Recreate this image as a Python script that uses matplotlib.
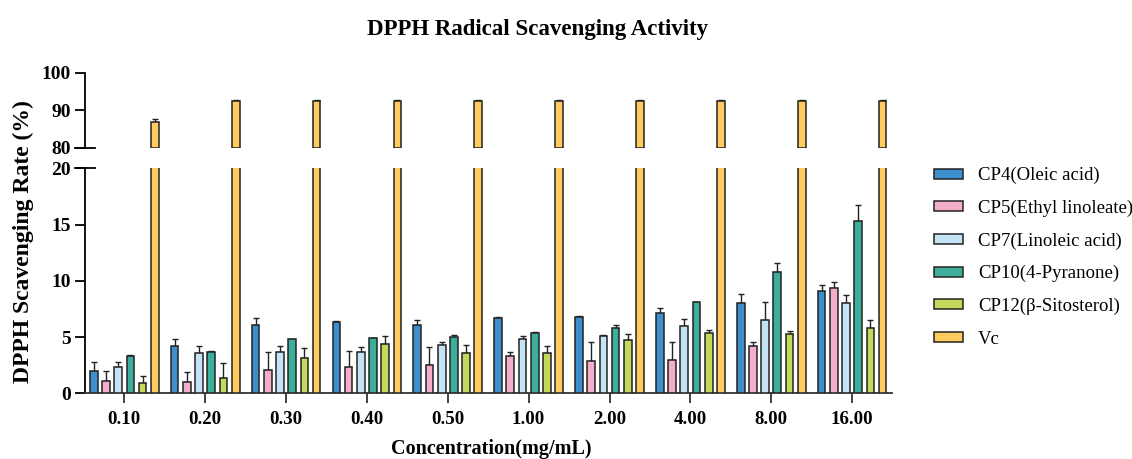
import numpy as np
import matplotlib
matplotlib.use("Agg")
import matplotlib.pyplot as plt
from matplotlib.patches import Patch
import matplotlib.transforms as mtransforms

plt.rcParams['font.family'] = ['Liberation Serif', 'DejaVu Serif']

concentrations = ['0.10', '0.20', '0.30', '0.40', '0.50', '1.00', '2.00', '4.00', '8.00', '16.00']
series = ['CP4(Oleic acid)', 'CP5(Ethyl linoleate)', 'CP7(Linoleic acid)',
          'CP10(4-Pyranone)', 'CP12(β-Sitosterol)', 'Vc']
colors = ['#3E8FCE', '#F2AECB', '#C4E3F5', '#3DAE9B', '#C2D95B', '#FFCB5E']

cp4 = [2.0, 4.2, 6.1, 6.3, 6.1, 6.7, 6.8, 7.1, 8.0, 9.1]
cp4_err = [0.8, 0.6, 0.6, 0.15, 0.45, 0.1, 0.05, 0.5, 0.8, 0.5]
cp5 = [1.1, 1.0, 2.1, 2.3, 2.5, 3.3, 2.9, 3.0, 4.2, 9.4]
cp5_err = [0.9, 0.9, 1.6, 1.5, 1.6, 0.4, 1.7, 1.6, 0.4, 0.5]
cp7 = [2.3, 3.6, 3.7, 3.7, 4.3, 4.8, 5.1, 6.0, 6.5, 8.0]
cp7_err = [0.5, 0.6, 0.5, 0.4, 0.25, 0.3, 0.05, 0.6, 1.6, 0.7]
cp10 = [3.3, 3.7, 4.8, 4.9, 5.0, 5.4, 5.8, 8.1, 10.8, 15.3]
cp10_err = [0.1, 0.05, 0.05, 0.05, 0.15, 0.05, 0.25, 0.05, 0.8, 1.4]
cp12 = [0.9, 1.4, 3.1, 4.4, 3.6, 3.6, 4.7, 5.4, 5.3, 5.8]
cp12_err = [0.6, 1.3, 0.9, 0.7, 0.7, 0.6, 0.6, 0.25, 0.2, 0.7]
vc = [86.8, 92.5, 92.5, 92.5, 92.5, 92.5, 92.5, 92.5, 92.5, 92.6]
vc_err = [0.9, 0.15, 0.15, 0.15, 0.15, 0.15, 0.15, 0.15, 0.3, 0.15]

values = [cp4, cp5, cp7, cp10, cp12, vc]
errors = [cp4_err, cp5_err, cp7_err, cp10_err, cp12_err, vc_err]

fig = plt.figure(figsize=(11.32, 4.59), dpi=100)
ax_top = fig.add_axes([0.0751, 0.6776, 0.713, 0.164])
ax_bot = fig.add_axes([0.0751, 0.1431, 0.713, 0.4902])

x = np.arange(len(concentrations))
pitch = 0.151
width = 0.095

# lower panel: all series, Vc gets cut at 20
for j, (vals, errs) in enumerate(zip(values, errors)):
    pos = x + (j - 2.5) * pitch
    ax_bot.bar(pos, vals, width, color=colors[j],
               edgecolor='#222222', linewidth=1.1, zorder=3)
    ax_bot.errorbar(pos, vals, yerr=[np.zeros(len(errs)), errs], fmt='none',
                    ecolor='#222222', elinewidth=1.0, capsize=2.2, capthick=1.0, zorder=2)

# upper panel: only Vc reaches it
pos_vc = x + 2.5 * pitch
ax_top.bar(pos_vc, np.array(vc) - 80, width, bottom=80, color=colors[5],
           edgecolor='#222222', linewidth=1.1, zorder=3)
ax_top.errorbar(pos_vc, vc, yerr=[np.zeros(len(vc_err)), vc_err], fmt='none',
                ecolor='#222222', elinewidth=1.0, capsize=2.2, capthick=1.0, zorder=2)

for ax in (ax_top, ax_bot):
    ax.set_xlim(-0.486, 9.495)
    for s in ('top', 'right'):
        ax.spines[s].set_visible(False)
    ax.spines['left'].set_linewidth(1.3)
    ax.tick_params(axis='y', direction='out', length=7, width=1.3, pad=3, labelsize=14)

ax_top.set_ylim(80, 100)
ax_top.set_yticks([80, 90, 100])
ax_top.spines['bottom'].set_visible(False)
ax_top.tick_params(axis='x', bottom=False, labelbottom=False)

ax_bot.set_ylim(0, 20)
ax_bot.set_yticks([0, 5, 10, 15, 20])
ax_bot.spines['bottom'].set_linewidth(1.3)
ax_bot.spines['bottom'].set_color('#333333')
ax_bot.set_xticks(x)
ax_bot.set_xticklabels(concentrations, fontweight='bold', fontsize=13.6)
ax_bot.tick_params(axis='x', direction='out', length=7, width=1.3, pad=6, color='#333333')

for ax in (ax_top, ax_bot):
    for lab in ax.get_yticklabels():
        lab.set_fontweight('bold')

# break markers crossing the spine
for ax, yv in ((ax_top, 80), (ax_bot, 20)):
    trans = mtransforms.blended_transform_factory(ax.transAxes, ax.transData)
    ax.plot([-0.0125, 0.0125], [yv, yv], color='black', lw=1.3, transform=trans, clip_on=False)

fig.text(0.475, 0.936, 'DPPH Radical Scavenging Activity', ha='center', va='center',
         fontsize=16.5, fontweight='bold')
fig.text(0.021, 0.474, 'DPPH Scavenging Rate (%)', ha='center', va='center', rotation=90,
         fontsize=17, fontweight='bold')
fig.text(0.434, 0.022, 'Concentration(mg/mL)', ha='center', va='center',
         fontsize=14.5, fontweight='bold')

handles = [Patch(facecolor=c, edgecolor='#222222', linewidth=1.1) for c in colors]
fig.legend(handles, series, loc='upper left', bbox_to_anchor=(0.825, 0.636),
           frameon=False, fontsize=13.5, handlelength=1.55, handleheight=0.45,
           handletextpad=0.8, labelspacing=0.82, borderpad=0, borderaxespad=0)

fig.savefig('out.png', dpi=100)
